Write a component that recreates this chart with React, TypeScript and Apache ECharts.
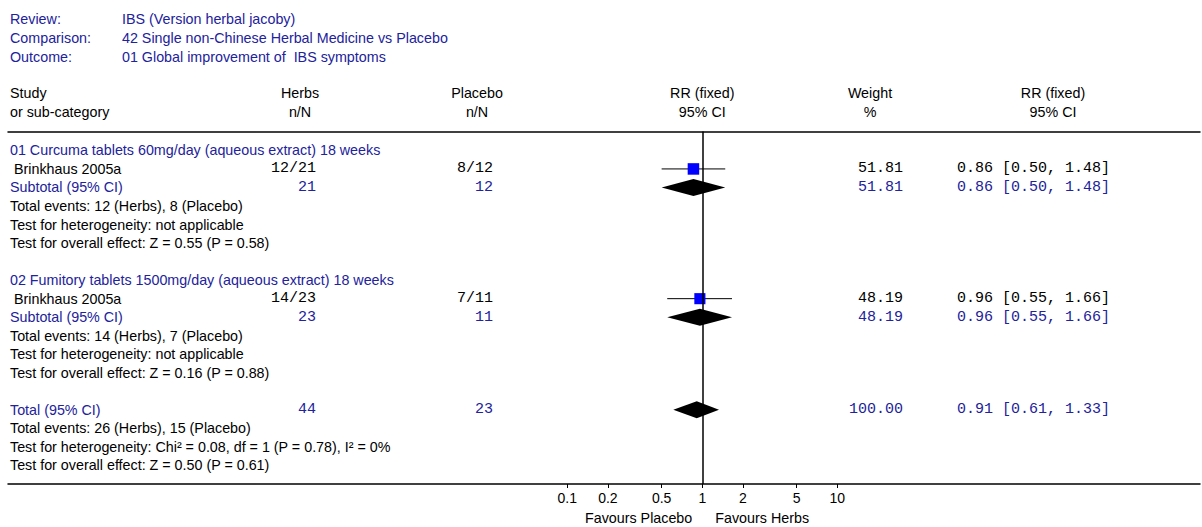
import React, { useEffect, useRef } from "react";
import * as echarts from "echarts";

// ---------- data ----------
const reviewLabels = ["Review:", "Comparison:", "Outcome:"];
const reviewValues = [
  "IBS (Version herbal jacoby)",
  "42 Single non-Chinese Herbal Medicine vs Placebo",
  "01 Global improvement of  IBS symptoms",
];
const groupTitles = [
  "01 Curcuma tablets 60mg/day (aqueous extract) 18 weeks",
  "02 Fumitory tablets 1500mg/day (aqueous extract) 18 weeks",
];
const studyNames = ["Brinkhaus 2005a", "Brinkhaus 2005a"];
const herbsEvents = [12, 14];
const herbsTotal = [21, 23];
const placeboEvents = [8, 7];
const placeboTotal = [12, 11];
const studyRR = [0.86, 0.96];
const studyLow = [0.5, 0.55];
const studyHigh = [1.48, 1.66];
const studyWeight = [51.81, 48.19];
const groupHeterogeneity = ["not applicable", "not applicable"];
const groupOverall = ["Z = 0.55 (P = 0.58)", "Z = 0.16 (P = 0.88)"];
const totalRR = 0.91;
const totalLow = 0.61;
const totalHigh = 1.33;
const totalWeight = 100;
const totalHeterogeneity = "Chi² = 0.08, df = 1 (P = 0.78), I² = 0%";
const totalOverall = "Z = 0.50 (P = 0.61)";
const tickValues = [0.1, 0.2, 0.5, 1, 2, 5, 10];

// ---------- layout ----------
const W = 1202;
const H = 527;
const X_MIN = -5.143;
const X_MAX = 3.687;
const Y_MIN = -1.02;
const Y_MAX = 18;
const BLUE = "#22229c";
const BLACK = "#000000";
const SANS = "'Liberation Sans', Arial, sans-serif";
const MONO = "'Liberation Mono', 'Courier New', monospace";
const SANS_SIZE = 14.3;

const f2 = (v: number) => v.toFixed(2);
const ciText = (rr: number, lo: number, hi: number) => `${f2(rr)} [${f2(lo)}, ${f2(hi)}]`;

export default function App() {
  const ref = useRef<HTMLDivElement>(null);

  useEffect(() => {
    if (!ref.current) return;
    const chart = echarts.init(ref.current, null, { renderer: "svg" });

    // marks: [row, log rr, log lo, log hi, weight, kind(0=study,1=diamond)]
    const marks: number[][] = [];
    for (let g = 0; g < studyRR.length; g++) {
      const base = g * 7;
      marks.push([base + 1, Math.log10(studyRR[g]), Math.log10(studyLow[g]), Math.log10(studyHigh[g]), studyWeight[g], 0]);
      marks.push([base + 2, Math.log10(studyRR[g]), Math.log10(studyLow[g]), Math.log10(studyHigh[g]), studyWeight[g], 1]);
    }
    marks.push([14, Math.log10(totalRR), Math.log10(totalLow), Math.log10(totalHigh), totalWeight, 1]);

    const tickLogs = tickValues.map((v) => Math.log10(v));

    chart.setOption({
      animation: false,
      grid: { left: 8, right: W - 1200, top: 131.5, bottom: H - 484, containLabel: false },
      xAxis: [
        {
          type: "value",
          min: X_MIN,
          max: X_MAX,
          position: "bottom",
          axisLine: { show: true, onZero: false, lineStyle: { color: BLACK, width: 1.5 } },
          axisTick: { show: true, customValues: tickLogs, length: 4, lineStyle: { color: BLACK, width: 1 } },
          axisLabel: {
            show: true,
            customValues: tickLogs,
            margin: 7,
            color: BLACK,
            fontFamily: SANS,
            fontSize: 14,
            formatter: (v: number) => {
              const i = tickLogs.findIndex((t) => Math.abs(t - v) < 1e-6);
              return i >= 0 ? String(tickValues[i]) : "";
            },
          },
          splitLine: { show: false },
        },
        {
          type: "value",
          min: X_MIN,
          max: X_MAX,
          position: "top",
          axisLine: { show: true, onZero: false, lineStyle: { color: BLACK, width: 1.5 } },
          axisTick: { show: false },
          axisLabel: { show: false },
          splitLine: { show: false },
        },
      ],
      yAxis: {
        type: "value",
        inverse: true,
        min: Y_MIN,
        max: Y_MAX,
        show: false,
        splitLine: { show: false },
      },
      series: [
        {
          type: "custom",
          xAxisIndex: 0,
          yAxisIndex: 0,
          clip: false,
          encode: { x: [1, 2, 3], y: 0 },
          data: marks,
          renderItem: (params: any, api: any) => {
            const row = api.value(0);
            const c = api.coord([api.value(1), row]);
            const lo = api.coord([api.value(2), row]);
            const hi = api.coord([api.value(3), row]);
            const kind = api.value(5);
            if (kind === 0) {
              const s = Math.sqrt(api.value(4)) * 1.6;
              return {
                type: "group",
                children: [
                  {
                    type: "line",
                    shape: { x1: lo[0], y1: c[1], x2: hi[0], y2: c[1] },
                    style: { stroke: BLACK, lineWidth: 1 },
                  },
                  {
                    type: "rect",
                    shape: { x: c[0] - s / 2, y: c[1] - s / 2, width: s, height: s },
                    style: { fill: "#0000ff" },
                  },
                ],
              };
            }
            const h = 8.5;
            return {
              type: "polygon",
              shape: {
                points: [
                  [lo[0], c[1]],
                  [c[0], c[1] - h],
                  [hi[0], c[1]],
                  [c[0], c[1] + h],
                ],
              },
              style: { fill: BLACK },
            };
          },
          markLine: {
            silent: true,
            symbol: "none",
            label: { show: false },
            lineStyle: { color: BLACK, width: 1.5, type: "solid" },
            data: [{ xAxis: 0 }],
          },
        },
      ],
    });

    const yOf = (r: number) => (chart.convertToPixel({ gridIndex: 0 } as any, [0, r]) as number[])[1];
    const xOne = (chart.convertToPixel({ gridIndex: 0 } as any, [0, 0]) as number[])[0];

    const els: any[] = [];
    const txt = (x: number, y: number, text: string, color: string, align = "left", mono = false) => {
      els.push({
        type: "text",
        x,
        y,
        silent: true,
        style: {
          text,
          fill: color,
          fontFamily: mono ? MONO : SANS,
          fontSize: mono ? 15 : SANS_SIZE,
          align,
          verticalAlign: "middle",
        },
      });
    };

    // header block
    const headY = [19, 38, 57];
    reviewLabels.forEach((l, i) => {
      txt(10, headY[i], l, BLUE);
      txt(122, headY[i], reviewValues[i], BLUE);
    });

    // column headers
    txt(10, 93, "Study", BLACK);
    txt(10, 112, "or sub-category", BLACK);
    txt(300, 93, "Herbs", BLACK, "center");
    txt(300, 112, "n/N", BLACK, "center");
    txt(477, 93, "Placebo", BLACK, "center");
    txt(477, 112, "n/N", BLACK, "center");
    txt(xOne, 93, "RR (fixed)", BLACK, "center");
    txt(xOne, 112, "95% CI", BLACK, "center");
    txt(870, 93, "Weight", BLACK, "center");
    txt(870, 112, "%", BLACK, "center");
    txt(1053, 93, "RR (fixed)", BLACK, "center");
    txt(1053, 112, "95% CI", BLACK, "center");

    const X_HERBS = 316;
    const X_PLAC = 493;
    const X_WEIGHT = 903;
    const X_CI = 957;

    for (let g = 0; g < groupTitles.length; g++) {
      const base = g * 7;
      txt(10, yOf(base), groupTitles[g], BLUE);
      const y1 = yOf(base + 1);
      txt(14, y1, studyNames[g], BLACK);
      txt(X_HERBS, y1, `${herbsEvents[g]}/${herbsTotal[g]}`, BLACK, "right", true);
      txt(X_PLAC, y1, `${placeboEvents[g]}/${placeboTotal[g]}`, BLACK, "right", true);
      txt(X_WEIGHT, y1, f2(studyWeight[g]), BLACK, "right", true);
      txt(X_CI, y1, ciText(studyRR[g], studyLow[g], studyHigh[g]), BLACK, "left", true);
      const y2 = yOf(base + 2);
      txt(10, y2, "Subtotal (95% CI)", BLUE);
      txt(X_HERBS, y2, String(herbsTotal[g]), BLUE, "right", true);
      txt(X_PLAC, y2, String(placeboTotal[g]), BLUE, "right", true);
      txt(X_WEIGHT, y2, f2(studyWeight[g]), BLUE, "right", true);
      txt(X_CI, y2, ciText(studyRR[g], studyLow[g], studyHigh[g]), BLUE, "left", true);
      txt(10, yOf(base + 3), `Total events: ${herbsEvents[g]} (Herbs), ${placeboEvents[g]} (Placebo)`, BLACK);
      txt(10, yOf(base + 4), `Test for heterogeneity: ${groupHeterogeneity[g]}`, BLACK);
      txt(10, yOf(base + 5), `Test for overall effect: ${groupOverall[g]}`, BLACK);
    }

    const sum = (a: number[]) => a.reduce((s, v) => s + v, 0);
    const yt = yOf(14);
    txt(10, yt, "Total (95% CI)", BLUE);
    txt(X_HERBS, yt, String(sum(herbsTotal)), BLUE, "right", true);
    txt(X_PLAC, yt, String(sum(placeboTotal)), BLUE, "right", true);
    txt(X_WEIGHT, yt, f2(totalWeight), BLUE, "right", true);
    txt(X_CI, yt, ciText(totalRR, totalLow, totalHigh), BLUE, "left", true);
    txt(10, yOf(15), `Total events: ${sum(herbsEvents)} (Herbs), ${sum(placeboEvents)} (Placebo)`, BLACK);
    txt(10, yOf(16), `Test for heterogeneity: ${totalHeterogeneity}`, BLACK);
    txt(10, yOf(17), `Test for overall effect: ${totalOverall}`, BLACK);

    // favours labels
    txt(xOne - 10, 518, "Favours Placebo", BLACK, "right");
    txt(xOne + 13, 518, "Favours Herbs", BLACK, "left");

    chart.setOption({ graphic: els });

    return () => chart.dispose();
  }, []);

  return (
    <div
      ref={ref}
      style={{ position: "fixed", left: 0, top: 0, width: W, height: H, background: "#fff" }}
    />
  );
}
